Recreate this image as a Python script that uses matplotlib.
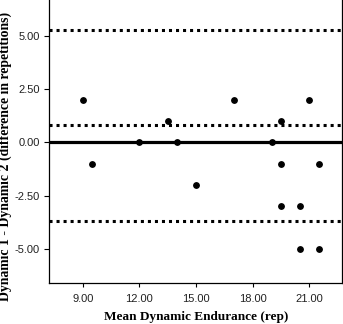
import matplotlib
matplotlib.use("Agg")
import matplotlib.pyplot as plt

# Bland-Altman data
mean_rep = [9.0, 9.5, 12.0, 13.5, 14.0, 15.0, 17.0, 19.0, 19.5, 19.5, 19.5, 20.5, 20.5, 21.0, 21.5, 21.5]
diff_rep = [2, -1, 0, 1, 0, -2, 2, 0, 1, -1, -3, -3, -5, 2, -1, -5]

# limits of agreement
upper_loa = 5.29
mean_diff = 0.80
lower_loa = -3.67

x_ticks = [9, 12, 15, 18, 21]
y_ticks = [-5, -2.5, 0, 2.5, 5]


def main():
    fig = plt.figure(figsize=(3.43, 3.24), dpi=100)
    ax = fig.add_axes([0.1443, 0.1265, 0.8527, 0.8735])

    # zero line
    ax.axhline(0, color="black", linewidth=2.3, zorder=2)

    # dotted lines for mean and limits
    for yv in [upper_loa, mean_diff, lower_loa]:
        ax.axhline(yv, color="black", linewidth=2.2, dashes=(1, 1.3),
                   dash_capstyle="butt", zorder=2)

    ax.plot(mean_rep, diff_rep, "o", color="black", markersize=3.9,
            linestyle="none", zorder=3)

    ax.set_xlim(7.24, 22.73)
    ax.set_ylim(-6.6, 6.68)

    ax.set_xticks(x_ticks)
    ax.set_xticklabels(["%.2f" % v for v in x_ticks])
    ax.set_yticks(y_ticks)
    ax.set_yticklabels(["%.2f" % v for v in y_ticks])

    ax.tick_params(axis="x", length=3, width=0.8, pad=5, labelsize=8)
    ax.tick_params(axis="y", length=3.5, width=0.8, direction="out", labelsize=8)
    for lab in ax.get_xticklabels() + ax.get_yticklabels():
        lab.set_fontfamily("Liberation Sans")
        lab.set_color("#222222")

    ax.spines["top"].set_visible(False)
    for s in ["left", "right", "bottom"]:
        ax.spines[s].set_linewidth(0.9)

    # labels
    ax.set_xlabel("Mean Dynamic Endurance (rep)", fontfamily="Liberation Serif",
                  fontweight="bold", fontsize=9.5, labelpad=5)
    ax.set_ylabel("Dynamic 1 - Dynamic 2 (difference in repetitions)",
                  fontfamily="Liberation Serif", fontweight="bold", fontsize=9.9)
    ax.yaxis.set_label_coords(-0.127, 0.449)

    fig.savefig("out.png", dpi=100)


if __name__ == "__main__":
    main()
